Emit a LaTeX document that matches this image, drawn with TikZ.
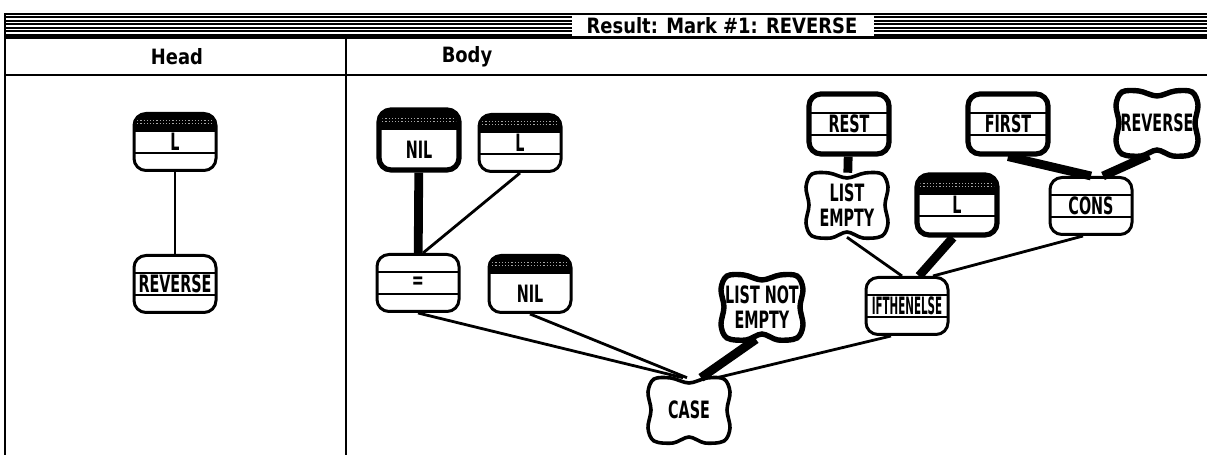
\documentclass[tikz,border=0pt]{standalone}
\usepackage{fontspec}
\newfontfamily\chicago{DejaVu Sans}[FakeStretch=0.6]
\newfontfamily\chicagowide{DejaVu Sans}[FakeStretch=0.85]
\usetikzlibrary{calc}

% wavy outline of a condition, in pixels round the node centre
\newcommand\blobpath{plot[smooth cycle, tension=0.55] coordinates {
  (-35,-31) (-18,-32) (0,-27) (18,-32) (35,-31) (41,-18) (38,0) (41,18)
  (35,31) (16,33) (0,27) (-16,33) (-35,31) (-41,18) (-38,0) (-41,-18)}}

\tikzset{
  every node/.style={font=\chicago\bfseries\fontsize{17}{18}\selectfont},
  bartext/.style={font=\chicagowide\bfseries\fontsize{15}{16}\selectfont},
  rowline/.style={line width=0.5mm, sharp corners},
  fnbox/.style={draw, rounded corners=3mm, line width=0.75mm,
    minimum width=20.5mm, minimum height=14.25mm, inner sep=0pt,
    path picture={
      \foreach \dy in {2.8,-2.8}
        \draw[rowline] ([yshift=\dy mm]path picture bounding box.west)
          -- ([yshift=\dy mm]path picture bounding box.east);
    }},
  varbox/.style={draw, rounded corners=3mm, line width=0.75mm,
    minimum width=20.5mm, minimum height=14.25mm, inner sep=0pt,
    path picture={
      \fill[sharp corners] (path picture bounding box.north west)
        rectangle ([yshift=2.5mm]path picture bounding box.east);
      \foreach \dy in {5.4,4.5}
        \draw[gray!70, line width=0.25mm, dash pattern=on 0.3mm off 0.5mm]
          ([yshift=\dy mm]path picture bounding box.west)
          -- ([yshift=\dy mm]path picture bounding box.east);
      \draw[rowline] ([yshift=-2.7mm]path picture bounding box.west)
        -- ([yshift=-2.7mm]path picture bounding box.east);
    }},
  nilbox/.style={draw, rounded corners=3mm, line width=0.75mm,
    minimum width=20.5mm, minimum height=14.25mm, inner sep=0pt,
    path picture={
      \fill[sharp corners] (path picture bounding box.north west)
        rectangle ([yshift=2.5mm]path picture bounding box.east);
      \foreach \dy in {5.4,4.5}
        \draw[gray!70, line width=0.25mm, dash pattern=on 0.3mm off 0.5mm]
          ([yshift=\dy mm]path picture bounding box.west)
          -- ([yshift=\dy mm]path picture bounding box.east);
    }},
  heavy/.style={line width=1.3mm, minimum width=20mm, minimum height=15mm},
  blob/.style={align=center, inner sep=0pt, minimum width=20.5mm, minimum height=16mm},
  blobline/.style={line width=0.9mm},
  heavyblobline/.style={line width=1.35mm},
  link/.style={line width=0.7mm},
  biglink/.style={line width=2.2mm}
}

\begin{document}
\begin{tikzpicture}[x=0.25mm, y=-0.25mm]
  \useasboundingbox (0,0) rectangle (1207,455);

  % window frame and title bar
  \draw[line width=0.5mm] (5,455) -- (5,14) -- (1207,14);
  \foreach \y in {17.5,21,24.5,28,31.5,35}
  {
    \draw[line width=0.5mm] (5,\y) -- (572,\y);
    \draw[line width=0.5mm] (874,\y) -- (1207,\y);
  }
  \node[bartext] (title) at (722,26) {Result: Mark \#1: REVERSE};
  \draw[line width=0.75mm] (5,38) -- (1207,38);
  \node[bartext] (head) at (177,57) {Head};
  \node[bartext] (body) at (467,57) {Body};
  \draw[line width=0.6mm] (5,75) -- (1207,75);
  \draw[line width=0.4mm] (346,38) -- (346,455);

  % head
  \node[varbox] (hdarg) at (175,142) {L};
  \node[fnbox] (hdfn) at (175,284) {REVERSE};
  \draw[link] (hdarg) -- (hdfn);

  % body
  \node[nilbox, heavy] (nila) at (419,140) {\raisebox{-4.6mm}[0pt][0pt]{NIL}};
  \node[varbox] (arga) at (520,143) {L};
  \node[fnbox] (eq) at (418,283) {=};
  \node[nilbox] (nilb) at (530,284) {\raisebox{-4.6mm}[0pt][0pt]{NIL}};
  \node[blob] (case) at (689,410) {CASE};
  \node[blob] (notempty) at (762,307) {LIST NOT\\EMPTY};
  \node[fnbox] (ite) at (907,306) {\scalebox{0.72}[1]{IFTHENELSE}};
  \node[blob] (empty) at (847,205) {LIST\\EMPTY};
  \node[fnbox, heavy] (rest) at (849,124) {REST};
  \node[varbox, heavy] (argb) at (957,205) {L};
  \node[fnbox] (cons) at (1091,206) {CONS};
  \node[fnbox, heavy] (first) at (1008,124) {FIRST};
  \node[blob] (rev) at (1157,123) {REVERSE};

  % condition outlines
  \draw[blobline, shift={(case)}] \blobpath;
  \draw[blobline, shift={(empty)}] \blobpath;
  \draw[heavyblobline, shift={(notempty)}] \blobpath;
  \draw[heavyblobline, shift={(rev)}] \blobpath;

  \draw[biglink] (nila) -- (eq);
  \draw[link] (arga.south) -- ([xshift=1.25mm]eq.north);
  \draw[link] (eq.south) -- ([xshift=-1.5mm]case.north);
  \draw[link] (nilb.south) -- ([xshift=-0.5mm]case.north);
  \draw[biglink] ([xshift=-1.5mm]notempty.south) -- ([xshift=3mm]case.north);
  \draw[link] ([xshift=-4mm]ite.south) -- ([xshift=7mm]case.north);
  \draw[biglink] (rest) -- (empty);
  \draw[link] (empty.south) -- ([xshift=-1.25mm]ite.north);
  \draw[biglink] ([xshift=-1mm]argb.south) -- ([xshift=3mm]ite.north);
  \draw[link] ([xshift=-2mm]cons.south) -- ([xshift=6.5mm]ite.north);
  \draw[biglink] (first.south) -- (cons.north);
  \draw[biglink] ([xshift=-2mm]rev.south) -- ([xshift=3mm]cons.north);
\end{tikzpicture}
\end{document}
